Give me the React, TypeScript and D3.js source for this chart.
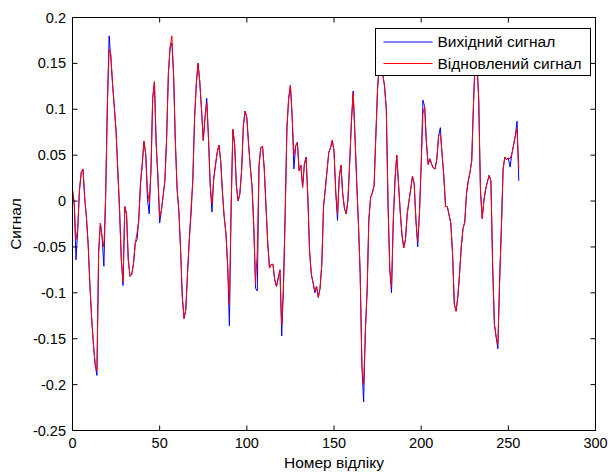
import React from "react";
import * as d3 from "d3";

const xTicks = [0, 50, 100, 150, 200, 250, 300];
const yTicks = [-0.25, -0.2, -0.15, -0.1, -0.05, 0, 0.05, 0.1, 0.15, 0.2];
const seriesNames = ["Вихідний сигнал", "Відновлений сигнал"];
const xLabel = "Номер відліку";
const yLabel = "Сигнал";

// reconstructed signal (red), sample 0..256
const restored = [
  0.012, -0.003, -0.042, -0.031, 0.012, 0.031, 0.035, 0.004, -0.018, -0.048,
  -0.092, -0.128, -0.156, -0.178, -0.185, -0.055, -0.024, -0.04, -0.05, 0.004,
  0.105, 0.165, 0.16, 0.127, 0.102, 0.076, 0.033, -0.01, -0.064, -0.088,
  -0.006, -0.014, -0.064, -0.082, -0.08, -0.068, -0.046, -0.035, -0.021, 0.019,
  0.04, 0.065, 0.051, 0.012, -0.001, 0.033, 0.112, 0.13, 0.062, 0.026,
  -0.017, -0.01, 0.006, 0.022, 0.069, 0.139, 0.168, 0.18, 0.137, 0.065,
  0.013, -0.01, -0.053, -0.105, -0.128, -0.118, -0.078, -0.042, -0.008, 0.022,
  0.089, 0.127, 0.15, 0.13, 0.1, 0.066, 0.091, 0.107, 0.069, 0.017,
  -0.003, 0.024, 0.039, 0.053, 0.061, 0.044, 0.01, -0.017, -0.035, -0.07,
  -0.113, -0.006, 0.078, 0.062, 0.017, 0.0, 0.008, 0.033, 0.082, 0.098,
  0.091, 0.062, 0.037, 0.015, -0.028, -0.09, -0.055, 0.039, 0.058, 0.06,
  0.035, -0.006, -0.046, -0.073, -0.069, -0.069, -0.086, -0.093, -0.084, -0.075,
  -0.135, -0.095, -0.014, 0.08, 0.112, 0.126, 0.092, 0.05, 0.06, 0.064,
  0.033, 0.039, 0.015, 0.04, 0.048, 0.004, -0.055, -0.08, -0.089, -0.098,
  -0.093, -0.105, -0.095, -0.069, -0.006, 0.013, 0.033, 0.053, 0.058, 0.066,
  0.055, 0.01, -0.014, 0.026, 0.039, 0.008, -0.008, -0.014, 0.001, 0.042,
  0.087, 0.118, 0.073, 0.022, -0.024, -0.078, -0.179, -0.2, -0.141, -0.098,
  -0.02, 0.004, 0.009, 0.017, 0.071, 0.123, 0.15, 0.165, 0.138, 0.125,
  0.1, -0.003, -0.075, -0.093, -0.022, 0.024, 0.05, 0.019, -0.012, -0.037,
  -0.051, -0.042, -0.014, 0.0, 0.013, 0.027, 0.019, -0.021, -0.044, -0.014,
  0.039, 0.095, 0.103, 0.064, 0.04, 0.046, 0.04, 0.036, 0.035, 0.046,
  0.071, 0.073, 0.051, 0.027, -0.006, -0.006, -0.015, -0.024, -0.057, -0.112,
  -0.12, -0.105, -0.08, -0.05, -0.03, -0.023, 0.008, 0.022, 0.031, 0.044,
  0.105, 0.155, 0.15, 0.112, 0.012, -0.019, 0.001, 0.013, 0.021, 0.028,
  0.022, -0.07, -0.134, -0.148, -0.156, -0.087, -0.03, 0.035, 0.048, 0.045,
  0.047, 0.046, 0.051, 0.061, 0.071, 0.078, 0.035,
];

// original signal (blue), sample 0..256
const original = [
  0.012, -0.003, -0.064, -0.031, 0.012, 0.031, 0.035, 0.004, -0.018, -0.048,
  -0.092, -0.128, -0.156, -0.178, -0.19, -0.055, -0.024, -0.04, -0.071, 0.004,
  0.105, 0.18, 0.155, 0.127, 0.102, 0.076, 0.033, -0.01, -0.064, -0.092,
  -0.006, -0.014, -0.064, -0.082, -0.08, -0.068, -0.046, -0.042, -0.021, 0.019,
  0.04, 0.065, 0.051, 0.002, -0.014, 0.033, 0.112, 0.13, 0.062, 0.026,
  -0.024, -0.01, 0.006, 0.022, 0.069, 0.139, 0.168, 0.172, 0.137, 0.065,
  0.013, -0.01, -0.053, -0.105, -0.128, -0.118, -0.078, -0.042, -0.014, 0.022,
  0.089, 0.127, 0.15, 0.13, 0.1, 0.066, 0.091, 0.112, 0.069, 0.017,
  -0.012, 0.024, 0.039, 0.053, 0.061, 0.044, 0.01, -0.017, -0.035, -0.07,
  -0.136, -0.006, 0.078, 0.062, 0.017, 0.0, 0.008, 0.033, 0.082, 0.098,
  0.091, 0.062, 0.037, 0.015, -0.028, -0.095, -0.098, 0.039, 0.058, 0.06,
  0.035, -0.006, -0.046, -0.073, -0.069, -0.069, -0.086, -0.093, -0.084, -0.075,
  -0.147, -0.095, -0.014, 0.08, 0.112, 0.126, 0.092, 0.035, 0.06, 0.064,
  0.033, 0.039, 0.015, 0.04, 0.048, 0.004, -0.055, -0.08, -0.089, -0.1,
  -0.093, -0.105, -0.095, -0.069, -0.006, 0.013, 0.033, 0.053, 0.058, 0.066,
  0.055, 0.01, -0.021, 0.026, 0.039, 0.008, -0.008, -0.014, 0.001, 0.042,
  0.087, 0.12, 0.073, 0.022, -0.024, -0.078, -0.179, -0.219, -0.141, -0.098,
  -0.02, 0.004, 0.009, 0.017, 0.071, 0.123, 0.15, 0.165, 0.138, 0.125,
  0.1, -0.003, -0.075, -0.1, -0.022, 0.024, 0.05, 0.019, -0.012, -0.037,
  -0.051, -0.042, -0.014, 0.0, 0.013, 0.027, 0.019, -0.021, -0.05, -0.014,
  0.039, 0.11, 0.103, 0.064, 0.04, 0.046, 0.04, 0.036, 0.035, 0.046,
  0.071, 0.08, 0.051, 0.027, -0.006, -0.006, -0.015, -0.024, -0.057, -0.112,
  -0.12, -0.105, -0.08, -0.05, -0.03, -0.023, 0.008, 0.022, 0.031, 0.044,
  0.105, 0.155, 0.15, 0.112, 0.012, -0.019, 0.001, 0.013, 0.021, 0.028,
  0.022, -0.07, -0.134, -0.148, -0.161, -0.087, -0.03, 0.035, 0.048, 0.045,
  0.047, 0.037, 0.051, 0.061, 0.071, 0.087, 0.022,
];

const W = 609;
const H = 474;
const left = 72.5;
const right = 595.5;
const top = 17.5;
const bottom = 430.5;
const FONT = "'Liberation Sans', Arial, sans-serif";

export default function App() {
  const x = d3.scaleLinear().domain([0, 300]).range([left, right]);
  const y = d3.scaleLinear().domain([-0.25, 0.2]).range([bottom, top]);
  const line = d3
    .line<number>()
    .x((_, i) => x(i))
    .y((d) => y(d));
  const tl = 5;
  const lx0 = 375.5;
  const ly0 = 28.5;
  const lw = 215;
  const lh = 47;
  return (
    <svg
      width={W}
      height={H}
      style={{ position: "absolute", left: 0, top: 0, background: "#fff" }}
      fontFamily={FONT}
    >
      <rect x={0} y={0} width={W} height={H} fill="#fff" />
      <defs>
        <clipPath id="plotclip">
          <rect x={left} y={top} width={right - left} height={bottom - top} />
        </clipPath>
      </defs>
      <g clipPath="url(#plotclip)">
        <path d={line(original) || ""} fill="none" stroke="#0000ff" strokeWidth={1} />
        <path d={line(restored) || ""} fill="none" stroke="#ff0000" strokeWidth={1} />
      </g>
      <rect
        x={left}
        y={top}
        width={right - left}
        height={bottom - top}
        fill="none"
        stroke="#000"
        strokeWidth={1}
      />
      {xTicks.map((t) => (
        <g key={"x" + t}>
          <line x1={x(t)} x2={x(t)} y1={bottom} y2={bottom - tl} stroke="#000" />
          <line x1={x(t)} x2={x(t)} y1={top} y2={top + tl} stroke="#000" />
          <text x={x(t)} y={447.5} fontSize={14.5} textAnchor="middle" fill="#000">
            {t}
          </text>
        </g>
      ))}
      {yTicks.map((t) => (
        <g key={"y" + t}>
          <line x1={left} x2={left + tl} y1={y(t)} y2={y(t)} stroke="#000" />
          <line x1={right} x2={right - tl} y1={y(t)} y2={y(t)} stroke="#000" />
          <text x={66} y={y(t) + 5} fontSize={14.5} textAnchor="end" fill="#000">
            {String(Math.round(t * 100) / 100)}
          </text>
        </g>
      ))}
      <text x={(left + right) / 2} y={468} fontSize={15.5} textAnchor="middle" fill="#000">
        {xLabel}
      </text>
      <text
        transform={`translate(21, ${(top + bottom) / 2}) rotate(-90)`}
        fontSize={15.5}
        textAnchor="middle"
        fill="#000"
      >
        {yLabel}
      </text>
      <g>
        <rect x={lx0} y={ly0} width={lw} height={lh} fill="#fff" stroke="#000" strokeWidth={1} />
        {seriesNames.map((name, i) => (
          <g key={name}>
            <line
              x1={lx0 + 8}
              x2={lx0 + 57}
              y1={ly0 + 13.5 + i * 21.5}
              y2={ly0 + 13.5 + i * 21.5}
              stroke={i === 0 ? "#0000ff" : "#ff0000"}
            />
            <text x={lx0 + 62} y={ly0 + 18.5 + i * 21.5} fontSize={15.5} fill="#000">
              {name}
            </text>
          </g>
        ))}
      </g>
    </svg>
  );
}
